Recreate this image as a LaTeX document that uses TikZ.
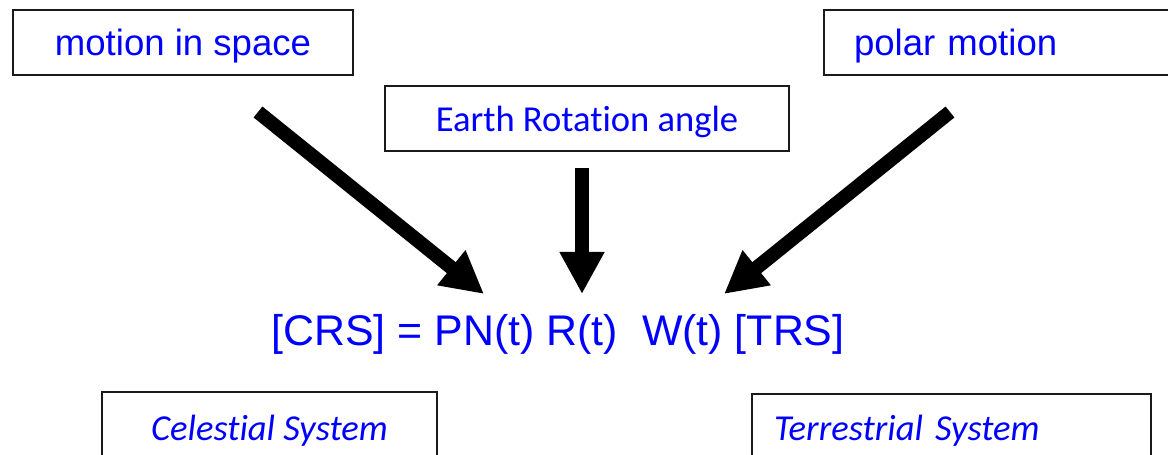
\documentclass[tikz,border=0pt]{standalone}
\usepackage{fontspec}
\usetikzlibrary{arrows.meta, positioning}
\newfontfamily\arialfont{Liberation Sans}
\newfontfamily\calibrifont[Ligatures=NoCommon]{Carlito}
\definecolor{textblue}{HTML}{0000FF}
\definecolor{boxline}{HTML}{1A1A1A}
\newcommand{\boxfont}{\arialfont\fontsize{26}{30}\selectfont}
\newcommand{\calfont}{\calibrifont\fontsize{26}{30}\selectfont}

\begin{document}
\begin{tikzpicture}[x=0.025cm, y=-0.025cm,
    labelbox/.style={draw=boxline, line width=1.4pt, fill=white,
      text=textblue, inner sep=0pt, text depth=0pt, minimum height=1.625cm},
    pusharrow/.style={-{Triangle[length=1.05cm, width=1.05cm]}, line width=10pt}]
  \useasboundingbox (0,0) rectangle (1168,454);
  \clip (0,0) rectangle (1168,454);
  % the three boxes on top
  \node[labelbox, minimum width=8.5cm, font=\boxfont] (space) at (183,42.5)
    {motion in space};
  \node[labelbox, minimum width=10.1cm, font=\calfont] (era) at (587,118.5)
    {Earth Rotation angle};
  \node[labelbox, anchor=west, text width=8.25cm, align=left,
        inner xsep=0.75cm, font=\boxfont] (polar) at (823,42.5)
    {polar motion};
  % the transformation
  \node[text=textblue, text depth=0pt, font=\arialfont\fontsize{30.5}{34}\selectfont]
    (eq) at (558,330) {[CRS] = PN(t) R(t)\ \ W(t) [TRS]};
  % the two systems below
  \node[labelbox, minimum width=8.375cm, minimum height=1.8cm,
        font=\calfont\itshape] (crs) at (269.5,428) {Celestial System};
  \node[labelbox, anchor=west, text width=8.875cm, align=left,
        inner xsep=0.55cm, minimum height=1.7cm,
        font=\calfont\itshape] (trs) at (751,428) {Terrestrial System};
  % arrows into the equation
  \coordinate (space-tail) at (258,112);
  \coordinate (era-tail) at (582,168);
  \coordinate (polar-tail) at (950,112);
  \coordinate (eq-pn) at (484,294);
  \coordinate (eq-r) at (582,294);
  \coordinate (eq-w) at (724,294);
  \draw[pusharrow] (space-tail) -- (eq-pn);
  \draw[pusharrow] (era-tail) -- (eq-r);
  \draw[pusharrow] (polar-tail) -- (eq-w);
\end{tikzpicture}
\end{document}
